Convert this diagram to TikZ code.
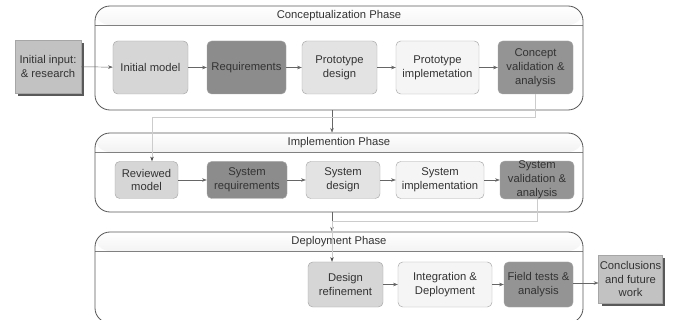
\documentclass[tikz,border=0pt]{standalone}
\usepackage{fontspec}
\setmainfont{Liberation Sans}
\usetikzlibrary{arrows.meta,shadows}

\tikzset{
  phase/.style={draw=black!65,line width=0.7pt,fill=white,rounded corners=0.45cm,minimum width=14.64cm,
    path picture={
      \shade[top color=white,bottom color=black!22] (path picture bounding box.north west) rectangle ([yshift=-0.57cm]path picture bounding box.north east);
      \draw[black!50] ([yshift=-0.57cm]path picture bounding box.north west) -- ([yshift=-0.57cm]path picture bounding box.north east);}},
  title/.style={text=black!80,font=\fontsize{9.6}{11.5}\selectfont},
  stage/.style={draw=black!35,rounded corners=4pt,align=center,text=black!80,inner xsep=1pt,inner ysep=0pt,font=\fontsize{9.6}{11.8}\selectfont},
  outer/.style={stage,rounded corners=0pt,fill=black!24,drop shadow={shadow xshift=2.5pt,shadow yshift=-2.5pt,fill=black!65,opacity=1}},
  model/.style={stage,fill=black!16},
  reqs/.style={stage,fill=black!45},
  design/.style={stage,fill=black!11},
  impl/.style={stage,fill=black!4},
  check/.style={stage,fill=black!42},
  row1/.style={minimum height=1.59cm},
  row2/.style={minimum height=1.11cm},
  row3/.style={minimum height=1.35cm},
  arr/.style={draw=black!60,-{Stealth[length=4pt,width=3pt]}},
  back/.style={draw=black!20,-{Stealth[black!70,length=4pt,width=3pt]}}
}

\begin{document}
\begin{tikzpicture}[x=0.03cm,y=-0.03cm]
\useasboundingbox (0,0) rectangle (673,320);
\clip (0,0) rectangle (673,320);

% the three phases
\node[phase,minimum height=3.12cm] (p1) at (339,58) {};
\node[phase,minimum height=2.37cm] (p2) at (339,172.5) {};
\node[phase,minimum height=2.73cm] (p3) at (339,277.5) {};
\node[title] (t1) at (339,15.5) {Conceptualization Phase};
\node[title] (t2) at (339,143) {Implemention Phase};
\node[title] (t3) at (339,242) {Deployment Phase};

% conceptualization
\node[outer,minimum width=1.98cm,minimum height=1.59cm] (inp) at (48,66.5) {Initial input:\\\& research};
\node[model,row1,minimum width=2.25cm] (m1) at (150.5,67.5) {Initial model};
\node[reqs,row1,minimum width=2.37cm] (req) at (246.5,67.5) {Requirements};
\node[design,row1,minimum width=2.25cm] (pd) at (339.5,67.5) {Prototype\\design};
\node[impl,row1,minimum width=2.49cm] (pi) at (437.5,67.5) {Prototype\\implemetation};
\node[check,row1,minimum width=2.25cm] (cv) at (535.5,67.5) {Concept\\validation \&\\analysis};

% implementation
\node[model,row2,minimum width=1.89cm] (rm) at (146.5,180) {Reviewed\\model};
\node[reqs,row2,minimum width=2.4cm] (sr) at (247,180) {System\\requirements};
\node[design,row2,minimum width=2.22cm] (sd) at (343,180) {System\\design};
\node[impl,row2,minimum width=2.64cm] (si) at (440,180) {System\\implementation};
\node[check,row2,minimum width=2.22cm] (sv) at (537,180) {System\\validation \&\\analysis};

% deployment
\node[model,row3,minimum width=2.25cm] (dr) at (345.5,284.5) {Design\\refinement};
\node[impl,row3,minimum width=2.82cm] (id) at (445,284.5) {Integration \&\\Deployment};
\node[check,row3,minimum width=2.07cm] (ft) at (538.5,284.5) {Field tests \&\\analysis};
\node[outer,minimum width=1.89cm,minimum height=1.44cm] (cf) at (630.5,279) {Conclusions\\and future\\work};

% flow
\draw[arr] (inp) -- (m1);
\draw[arr] (m1) -- (req);
\draw[arr] (req) -- (pd);
\draw[arr] (pd) -- (pi);
\draw[arr] (pi) -- (cv);
\draw[arr] (rm) -- (sr);
\draw[arr] (sr) -- (sd);
\draw[arr] (sd) -- (si);
\draw[arr] (si) -- (sv);
\draw[arr] (dr) -- (id);
\draw[arr] (id) -- (ft);
\draw[arr] (ft.east |- 0,283) -- (cf.west |- 0,283);
\draw[arr] ([xshift=-0.21cm]p1.south) -- ([xshift=-0.21cm]p2.north);
\draw[arr] ([xshift=-0.21cm]p2.south) -- ([xshift=-0.21cm]p3.north);

% feedback into the next phase
\coordinate (fb1) at (152,117);
\coordinate (fb2) at (332,221);
\draw[back] (cv.south) |- (fb1) -- (fb1 |- rm.north);
\draw[back] (sv.south) |- (fb2) -- (fb2 |- dr.north);
\end{tikzpicture}
\end{document}
